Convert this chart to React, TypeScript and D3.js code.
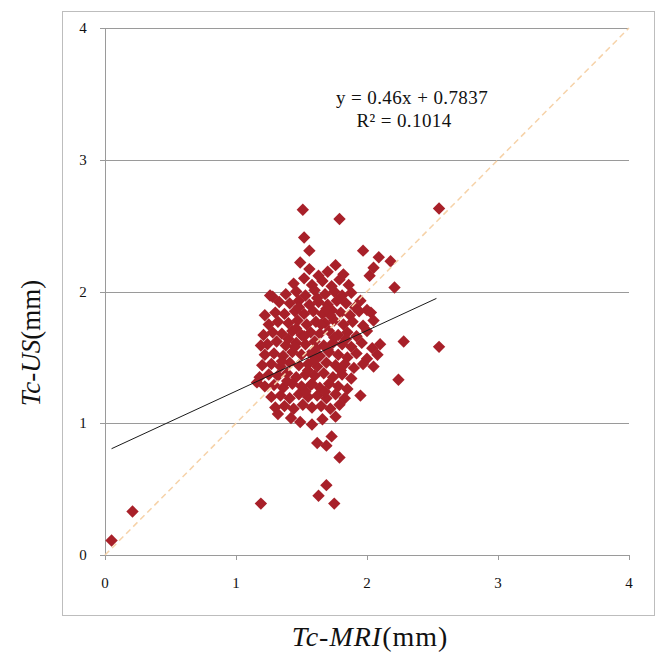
import React from "react";
import * as d3 from "d3";

// Tc-MRI (x) vs Tc-US (y), mm
const outlierPoints: [number, number][] = [
  [0.05, 0.11], [0.21, 0.33], [1.19, 0.39], [1.75, 0.39], [1.63, 0.45], [1.69, 0.53],
  [1.79, 0.74], [1.62, 0.85], [1.69, 0.83], [1.73, 0.90],
  [1.51, 2.62], [1.79, 2.55], [2.55, 2.63], [1.52, 2.41], [1.56, 2.31],
  [1.97, 2.31], [2.09, 2.26], [2.18, 2.23], [2.21, 2.03], [2.28, 1.62],
  [2.55, 1.58], [2.24, 1.33], [1.95, 1.21], [1.16, 1.31], [1.19, 1.59], [1.26, 1.97],
];

const clusterPoints: [number, number][] = [
  [1.49, 2.22], [1.56, 2.17], [1.63, 2.12], [1.70, 2.15], [1.76, 2.20], [1.82, 2.13],
  [1.44, 2.06], [1.52, 2.10], [1.58, 2.05], [1.66, 2.08], [1.73, 2.04], [1.79, 2.09], [1.86, 2.05], [2.02, 2.12], [2.05, 2.18],
  [1.28, 1.96], [1.38, 1.98], [1.46, 2.00], [1.53, 1.97], [1.60, 2.01], [1.68, 1.98], [1.75, 2.00], [1.81, 1.97], [1.88, 1.99], [1.95, 1.93],
  [1.33, 1.92], [1.41, 1.91], [1.48, 1.93], [1.56, 1.90], [1.63, 1.92], [1.70, 1.90], [1.77, 1.93], [1.84, 1.91], [1.91, 1.88], [2.00, 1.86],
  [1.22, 1.82], [1.30, 1.84], [1.37, 1.83], [1.45, 1.85], [1.52, 1.83], [1.59, 1.85], [1.66, 1.83], [1.73, 1.86], [1.80, 1.84], [1.87, 1.82], [1.94, 1.85], [2.03, 1.84],
  [1.25, 1.75], [1.32, 1.77], [1.40, 1.76], [1.47, 1.78], [1.54, 1.75], [1.61, 1.77], [1.68, 1.76], [1.75, 1.78], [1.82, 1.75], [1.89, 1.77], [1.97, 1.74], [2.05, 1.78],
  [1.21, 1.67], [1.28, 1.69], [1.35, 1.68], [1.43, 1.70], [1.50, 1.67], [1.57, 1.69], [1.64, 1.68], [1.71, 1.70], [1.78, 1.67], [1.85, 1.69], [1.92, 1.66], [2.00, 1.70],
  [1.24, 1.60], [1.31, 1.62], [1.38, 1.59], [1.46, 1.61], [1.53, 1.60], [1.60, 1.62], [1.67, 1.59], [1.74, 1.61], [1.81, 1.60], [1.88, 1.58], [1.96, 1.61], [2.04, 1.57], [2.10, 1.60],
  [1.22, 1.52], [1.29, 1.53], [1.36, 1.51], [1.43, 1.54], [1.50, 1.52], [1.57, 1.53], [1.64, 1.51], [1.71, 1.54], [1.78, 1.52], [1.85, 1.50], [1.92, 1.53], [2.00, 1.49], [2.08, 1.52],
  [1.20, 1.44], [1.27, 1.45], [1.34, 1.43], [1.41, 1.46], [1.48, 1.44], [1.55, 1.45], [1.62, 1.43], [1.69, 1.46], [1.76, 1.44], [1.83, 1.45], [1.90, 1.42], [1.97, 1.45], [2.05, 1.43],
  [1.18, 1.35], [1.25, 1.37], [1.32, 1.36], [1.39, 1.38], [1.46, 1.35], [1.53, 1.37], [1.60, 1.36], [1.67, 1.38], [1.74, 1.35], [1.81, 1.37], [1.88, 1.34],
  [1.22, 1.28], [1.29, 1.29], [1.36, 1.27], [1.43, 1.30], [1.50, 1.28], [1.57, 1.29], [1.64, 1.27], [1.71, 1.30], [1.78, 1.28], [1.85, 1.26],
  [1.27, 1.20], [1.34, 1.21], [1.41, 1.19], [1.48, 1.22], [1.55, 1.20], [1.62, 1.21], [1.69, 1.19], [1.76, 1.22], [1.83, 1.19],
  [1.30, 1.12], [1.37, 1.13], [1.44, 1.11], [1.51, 1.14], [1.58, 1.12], [1.65, 1.13], [1.72, 1.11], [1.79, 1.14],
  [1.32, 1.07], [1.42, 1.04], [1.49, 1.01], [1.58, 0.99], [1.66, 1.03], [1.76, 1.05],
  [1.45, 1.58], [1.52, 1.66], [1.60, 1.48], [1.70, 1.56], [1.55, 1.40], [1.65, 1.75], [1.48, 1.88],
  [1.72, 1.82], [1.58, 1.30], [1.40, 1.64], [1.80, 1.40], [1.62, 1.95], [1.35, 1.47], [1.75, 1.65],
  [1.53, 1.24], [1.68, 1.24], [1.46, 1.72], [1.61, 1.57], [1.84, 1.64], [1.39, 1.32], [1.69, 1.87],
];

const xTicks = [0, 1, 2, 3, 4];
const yTicks = [0, 1, 2, 3, 4];
const slope = 0.46;
const intercept = 0.7837;
const trendRange = [0.05, 2.53];
const identityRange = [0, 4];
const equationText = "y = 0.46x + 0.7837";
const r2Text = "R\u00B2 = 0.1014";

export default function App() {
  const W = 662, H = 654;
  const x = d3.scaleLinear().domain([0, 4]).range([105, 629]);
  const y = d3.scaleLinear().domain([0, 4]).range([555, 28]);
  const points = [...clusterPoints, ...outlierPoints];
  const diamond = d3.symbol().type(d3.symbolDiamond2).size(98)()!;
  const line = d3.line<number>().x((v) => x(v)).y((v) => y(slope * v + intercept));
  const idLine = d3.line<number>().x((v) => x(v)).y((v) => y(v));
  const serif = "'Liberation Serif', 'DejaVu Serif', serif";

  return (
    <svg width={W} height={H} style={{ position: "absolute", left: 0, top: 0, background: "#fff" }}>
      <rect x={62.5} y={11.5} width={592} height={604} fill="#fff" stroke="#bdbdbd" strokeWidth={1} />
      {yTicks.filter((t) => t > 0).map((t) => (
        <line key={"g" + t} x1={100} x2={629} y1={Math.round(y(t)) + 0.5} y2={Math.round(y(t)) + 0.5} stroke="#9a9a9a" strokeWidth={1} />
      ))}
      <line x1={100} x2={105} y1={y(0) + 0.5} y2={y(0) + 0.5} stroke="#9a9a9a" />
      <line x1={105.5} x2={105.5} y1={y(4)} y2={y(0)} stroke="#9a9a9a" />
      <line x1={105} x2={629} y1={y(0) + 0.5} y2={y(0) + 0.5} stroke="#9a9a9a" />
      {xTicks.map((t) => (
        <line key={"xt" + t} x1={Math.round(x(t)) + 0.5} x2={Math.round(x(t)) + 0.5} y1={y(0)} y2={y(0) + 5} stroke="#9a9a9a" />
      ))}
      {xTicks.map((t) => (
        <text key={"xl" + t} x={x(t)} y={y(0) + 33} textAnchor="middle" fontFamily={serif} fontSize={15} fill="#111">{t}</text>
      ))}
      {yTicks.map((t) => (
        <text key={"yl" + t} x={83} y={y(t) + 5} textAnchor="middle" fontFamily={serif} fontSize={15} fill="#111">{t}</text>
      ))}
      {points.map((p, i) => (
        <path key={i} d={diamond} transform={`translate(${x(p[0])},${y(p[1])})`} fill="#a82029" />
      ))}
      <path d={idLine(identityRange)!} fill="none" stroke="#f6d2a8" strokeWidth={1.5} strokeDasharray="6,4" />
      <path d={line(trendRange)!} fill="none" stroke="#1a1a1a" strokeWidth={1} />
      <text x={412} y={104} textAnchor="middle" fontFamily={serif} fontSize={19} letterSpacing={0.4} fill="#111">{equationText}</text>
      <text x={404} y={127} textAnchor="middle" fontFamily={serif} fontSize={19} letterSpacing={0.4} fill="#111">{r2Text}</text>
      <text x={370} y={646} textAnchor="middle" fontFamily={serif} fontSize={28} letterSpacing={1} fill="#111">
        <tspan fontStyle="italic">Tc-MRI</tspan><tspan>(mm)</tspan>
      </text>
      <text transform={`translate(40,343) rotate(-90)`} textAnchor="middle" fontFamily={serif} fontSize={27} fill="#111">
        <tspan fontStyle="italic">Tc-US</tspan><tspan>(mm)</tspan>
      </text>
    </svg>
  );
}
